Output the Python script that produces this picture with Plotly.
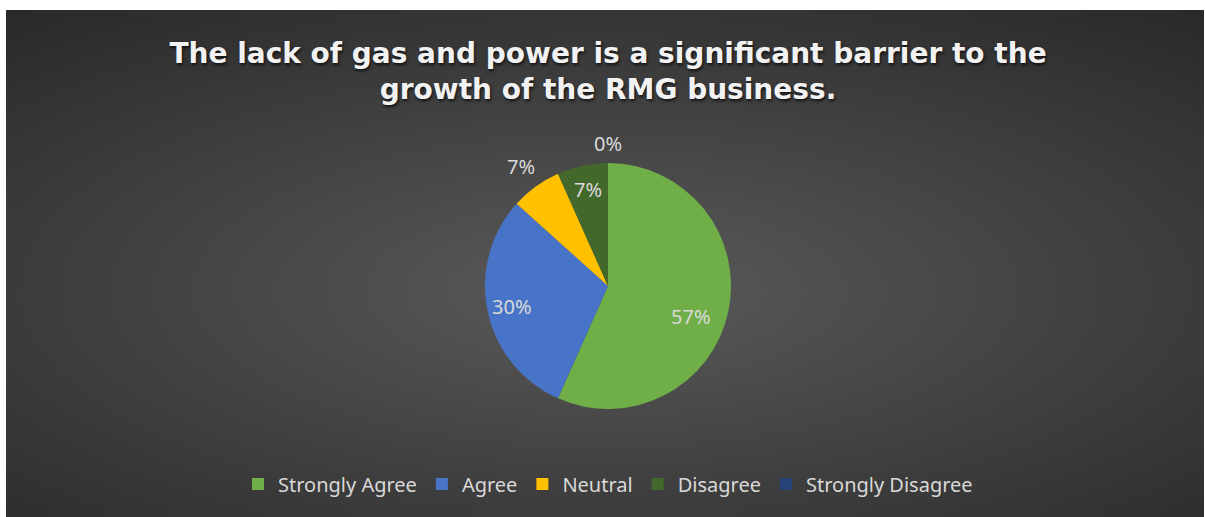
import numpy as np
import plotly.graph_objects as go

# ---- data ----
categories = ["Strongly Agree", "Agree", "Neutral", "Disagree", "Strongly Disagree"]
responses = [17, 9, 2, 2, 0]
slice_colors = ["#70ae48", "#4774c6", "#ffc000", "#43682b", "#264478"]
# label placement (style only): distance from centre as fraction of radius, angle nudge in degrees
label_radius = [0.72, 0.80, 1.20, 0.80, 1.16]
label_angle_nudge = [8, 0, 0, 0, 0]
title_text = "The lack of gas and power is a significant barrier to the<br>growth of the RMG business."

W, H = 1205, 517
CX, CY, R = 608, 286, 123  # pie centre / radius in pixels (layout)

# ---- decorative radial background ----
nx, ny = 60, 26
xe = np.linspace(6, W - 1, nx + 1)
ye = np.linspace(10, H, ny + 1)
xc = (xe[:-1] + xe[1:]) / 2
yc = (ye[:-1] + ye[1:]) / 2
XX, YY = np.meshgrid(xc, yc)
t = np.sqrt(((XX - 605) / 1000) ** 2 + ((YY - 290) / 380) ** 2)
t = np.clip(t, 0, 1)
bg = go.Heatmap(
    x=xe, y=ye, z=t, zmin=0, zmax=1, zsmooth="best",
    colorscale=[[0, "#5a5a5a"], [1, "#262626"]],
    showscale=False, hoverinfo="skip", showlegend=False,
)

pie = go.Pie(
    labels=categories, values=responses, sort=False, direction="clockwise",
    rotation=0,
    marker=dict(colors=slice_colors, line=dict(width=0)),
    textinfo="none",
    domain=dict(x=[(CX - 240) / W, (CX + 240) / W],
                y=[1 - (CY + R) / H, 1 - (CY - R) / H]),
    hoverinfo="label+percent",
)

# percentage labels derived from the data
vals = np.array(responses, dtype=float)
total = vals.sum()
ends = np.cumsum(vals) / total * 360
starts = ends - vals / total * 360
mids = np.radians((starts + ends) / 2 + np.array(label_angle_nudge))
annotations = []
for v, a, f in zip(vals, mids, label_radius):
    annotations.append(dict(
        x=CX + f * R * np.sin(a), y=CY - f * R * np.cos(a),
        xref="x", yref="y", showarrow=False,
        text=f"{round(v / total * 100):.0f}%",
        font=dict(family="Noto Sans", size=20, color="#d9d9d9"),
        xanchor="center", yanchor="middle",
    ))

fig = go.Figure([bg, pie])
fig.update_layout(
    width=W, height=H,
    margin=dict(l=0, r=0, t=0, b=0),
    paper_bgcolor="white", plot_bgcolor="white",
    xaxis=dict(range=[0, W], visible=False, fixedrange=True),
    yaxis=dict(range=[H, 0], visible=False, fixedrange=True),
    annotations=annotations,
    title=dict(
        text=title_text, x=CX / W, xanchor="center", xref="paper",
        y=1 - 63 / H, yanchor="middle", yref="container",
        font=dict(family="DejaVu Sans", size=28, weight="bold", color="#f2f2f2",
                  shadow="1px 2px 3px rgba(0,0,0,0.7)"),
    ),
    legend=dict(
        orientation="h", x=CX / W, xanchor="center", y=1 - 484 / H, yanchor="middle",
        font=dict(family="Noto Sans", size=20, color="#d9d9d9"),
        bgcolor="rgba(0,0,0,0)", itemclick=False,
    ),
)
fig.write_html("out.html")
